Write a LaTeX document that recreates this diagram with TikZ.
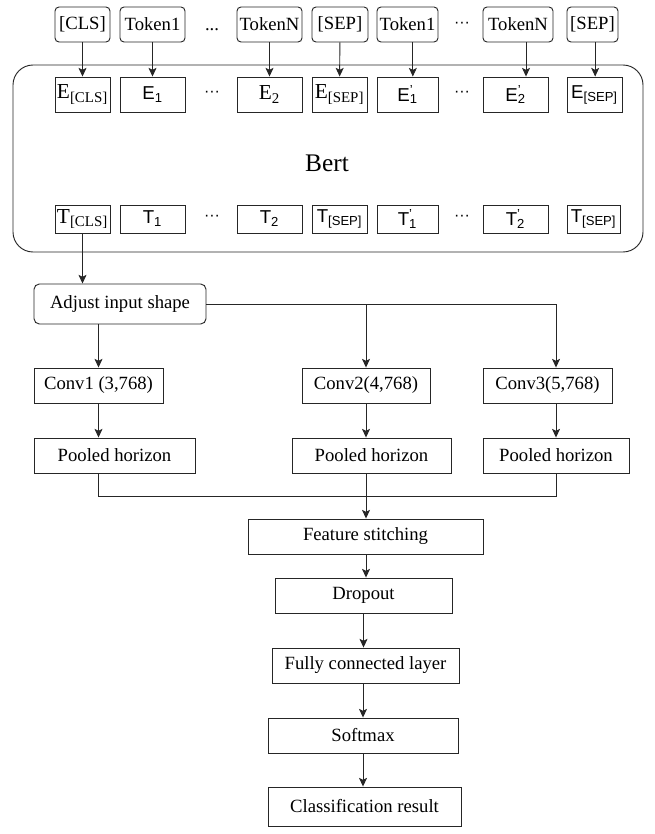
\documentclass[tikz,border=0pt]{standalone}
\usepackage{fontspec}
\setmainfont{Liberation Serif}
\setsansfont{Liberation Sans}
\usetikzlibrary{arrows.meta}

% labels of the embedding and output vectors
\newcommand{\vecserif}[2]{{\fontsize{16}{18}\selectfont #1\textsubscript{#2}}}
\newcommand{\vecsans}[2]{{\sffamily #1\textsubscript{#2}}}
\newcommand{\vecprime}[2]{{\sffamily #1\rlap{\textsuperscript{'}}\textsubscript{#2}}}

\begin{document}
\begin{tikzpicture}[x=0.75pt, y=-0.75pt, line width=0.7pt, draw=black!85,
    font=\fontsize{14}{16}\selectfont,
    boxw/.style={minimum width=#1*0.75pt},
    tokbox/.style={draw, rounded corners=3pt, minimum height=35*0.75pt, inner sep=1pt},
    embbox/.style={draw, minimum height=35*0.75pt, inner sep=1pt},
    outbox/.style={draw, minimum height=28*0.75pt, inner sep=1pt},
    layer/.style={draw, minimum height=35*0.75pt, inner sep=1pt},
    dotsans/.style={font=\sffamily\fontsize{12}{14}\selectfont},
    arr/.style={-{Stealth[length=6.5pt, width=6pt, inset=1.5pt]}}]

	\useasboundingbox (0,0) rectangle (655,834);

	% Bert container
	\node[draw, rounded corners=15pt, minimum width=630*0.75pt, minimum height=187*0.75pt] (bert) at (328,158.5) {};
	\node[font=\fontsize{19}{22}\selectfont] (bertlabel) at (327,163) {Bert};

	% Input tokens
	\node[tokbox, boxw=55] (tokcls) at (82.5,24.5) {[CLS]};
	\node[tokbox, boxw=65] (tokone) at (152.5,24.5) {Token1};
	\node (tokdots) at (212,30) {...};
	\node[tokbox, boxw=65] (tokn) at (269.5,24.5) {TokenN};
	\node[tokbox, boxw=56] (toksep) at (340,24.5) {[SEP]};
	\node[tokbox, boxw=61] (tokoneb) at (407.5,24.5) {Token1};
	\node[dotsans] (tokdotsb) at (462,25) {···};
	\node[tokbox, boxw=70] (toknb) at (518,24.5) {TokenN};
	\node[tokbox, boxw=51] (toksepb) at (592.5,24.5) {[SEP]};

	% Embeddings
	\node[embbox, boxw=55] (ecls) at (82.5,94.5) {\vecserif{E}{[CLS]}};
	\node[embbox, boxw=65] (eone) at (152.5,94.5) {\vecsans{E}{1}};
	\node[dotsans] (edots) at (212,94) {···};
	\node[embbox, boxw=65] (etwo) at (269.5,94.5) {\vecserif{E}{2}};
	\node[embbox, boxw=55] (esep) at (339.5,94.5) {\vecserif{E}{[SEP]}};
	\node[embbox, boxw=61] (epone) at (407.5,94.5) {\vecprime{E}{1}};
	\node[dotsans] (edotsb) at (462,94) {···};
	\node[embbox, boxw=65] (eptwo) at (515.5,94.5) {\vecprime{E}{2}};
	\node[embbox, boxw=55] (esepb) at (594.5,94.5) {\vecsans{E}{[SEP]}};

	% Outputs
	\node[outbox, boxw=55] (tcls) at (82.5,219) {\vecserif{T}{[CLS]}};
	\node[outbox, boxw=65] (tone) at (152.5,219) {\vecsans{T}{1}};
	\node[dotsans] (odots) at (212,218) {···};
	\node[outbox, boxw=65] (ttwo) at (269.5,219) {\vecsans{T}{2}};
	\node[outbox, boxw=55] (tsep) at (339.5,219) {\vecsans{T}{[SEP]}};
	\node[outbox, boxw=61] (tpone) at (407.5,219) {\vecprime{T}{1}};
	\node[dotsans] (odotsb) at (462,218) {···};
	\node[outbox, boxw=65] (tptwo) at (515.5,219) {\vecprime{T}{2}};
	\node[outbox, boxw=53] (tsepb) at (593.5,219) {\vecsans{T}{[SEP]}};

	% Tokens into Bert
	\draw[arr] (tokcls) -- (ecls);
	\draw[arr] (tokone) -- (eone);
	\draw[arr] (tokn) -- (etwo);
	\draw[arr] (toksep) -- (esep);
	\draw[arr] ([xshift=4pt]tokoneb.south) -- ([xshift=4pt]epone.north);
	\draw[arr] ([xshift=6pt]toknb.south) -- ([xshift=6pt]toknb.south |- eptwo.north);
	\draw[arr] ([xshift=2pt]toksepb.south) -- ([xshift=2pt]toksepb.south |- esepb.north);

	% CNN layers
	\node[draw, rounded corners=4pt, boxw=172, minimum height=40*0.75pt] (adjust) at (120,304) {Adjust input shape};
	\node[layer, boxw=129] (convone) at (98.5,385.5) {Conv1 (3,768)};
	\node[layer, boxw=128] (convtwo) at (366,385.5) {Conv2(4,768)};
	\node[layer, boxw=129] (convthree) at (547.5,385.5) {Conv3(5,768)};
	\node[layer, boxw=161] (poolone) at (114.5,455.5) {Pooled horizon};
	\node[layer, boxw=159] (pooltwo) at (371.5,455.5) {Pooled horizon};
	\node[layer, boxw=146] (poolthree) at (556,455.5) {Pooled horizon};
	\coordinate (merge) at (366,496);

	\node[layer, boxw=235] (stitch) at (365.5,536.5) {Feature stitching};
	\node[layer, boxw=177] (dropout) at (363.5,595.5) {Dropout};
	\node[layer, boxw=187] (fc) at (365.5,665.5) {Fully connected layer};
	\node[layer, boxw=190] (softmax) at (363,735.5) {Softmax};
	\node[layer, boxw=193, minimum height=39*0.75pt] (result) at (364.5,806.5) {Classification result};

	% Connections
	\draw[arr] (tcls) -- (tcls.south |- adjust.north);
	\draw[arr] (adjust.south -| convone) -- (convone);
	\draw (adjust.east) -- (adjust.east -| poolthree);
	\draw[arr] (adjust.east -| convtwo) -- (convtwo);
	\draw[arr] (adjust.east -| poolthree) -- (convthree.north -| poolthree);
	\draw[arr] (convone) -- (convone.south |- poolone.north);
	\draw[arr] (convtwo) -- (convtwo.south |- pooltwo.north);
	\draw[arr] (convthree.south -| poolthree) -- (poolthree);
	\draw (poolone.south -| convone) |- (merge);
	\draw (poolthree.south) |- (merge);
	\draw[arr] (pooltwo.south -| merge) -- (stitch.north -| merge);
	\draw[arr] (stitch.south -| merge) -- (dropout.north -| merge);
	\draw[arr] (dropout) -- (dropout.south |- fc.north);
	\draw[arr] (fc.south -| softmax) -- (softmax);
	\draw[arr] (softmax) -- (softmax.south |- result.north);
\end{tikzpicture}
\end{document}
